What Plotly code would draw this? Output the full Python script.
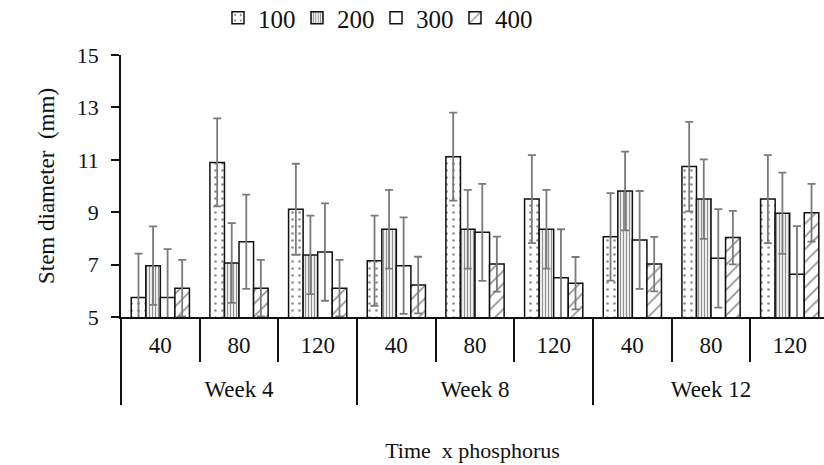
import plotly.graph_objects as go

weeks = ["Week 4", "Week 8", "Week 12"]
phos_levels = ["40", "80", "120"]
series_names = ["100", "200", "300", "400"]

s100 = [5.74, 10.9, 9.11, 7.15, 11.12, 9.5, 8.06, 10.74, 9.5]
e100 = [1.68, 1.68, 1.74, 1.72, 1.68, 1.68, 1.67, 1.71, 1.68]
s200 = [6.96, 7.06, 7.37, 8.35, 8.35, 8.35, 9.81, 9.5, 8.96]
e200 = [1.5, 1.52, 1.5, 1.5, 1.5, 1.5, 1.5, 1.52, 1.55]
s300 = [5.74, 7.87, 7.48, 6.96, 8.23, 6.5, 7.94, 7.24, 6.63]
e300 = [1.85, 1.8, 1.86, 1.84, 1.85, 1.85, 1.87, 1.88, 1.84]
s400 = [6.1, 6.1, 6.1, 6.22, 7.02, 6.29, 7.02, 8.03, 8.98]
e400 = [1.08, 1.08, 1.08, 1.08, 1.05, 1.0, 1.04, 1.02, 1.1]

values = [s100, s200, s300, s400]
errors = [e100, e200, e300, e400]

# category keys (week x phosphorus) and their labels
keys = [f"{w}|{p}" for w in weeks for p in phos_levels]
sub_labels = [p for w in weeks for p in phos_levels]
n_sub = len(phos_levels)
n_cat = len(keys)
week_centers = [i * n_sub + (n_sub - 1) / 2 for i in range(len(weeks))]

patterns = [
    dict(shape=".", size=7, solidity=0.12, fgcolor="#222", bgcolor="white"),
    dict(shape="|", size=3, solidity=0.45, fgcolor="#222", bgcolor="white"),
    dict(shape="", bgcolor="white"),
    dict(shape="/", size=9, solidity=0.18, fgcolor="#222", bgcolor="white"),
]

FAM = "Liberation Serif, Times New Roman, serif"
XR = [-0.5, n_cat - 0.564]


def F(size):
    return dict(family=FAM, size=size, color="#111")


fig = go.Figure()
for name, v, e, p in zip(series_names, values, errors, patterns):
    fig.add_trace(go.Bar(
        x=keys, y=v, name=name,
        marker=dict(color="white", line=dict(color="#111", width=1.5), pattern=p),
        error_y=dict(type="data", array=e, visible=True, color="#7a7a7a",
                     thickness=1.8, width=4),
    ))

# empty helper traces so the two label axes (sub-categories, weeks) are drawn
for ax in ["x2", "x3"]:
    fig.add_trace(go.Scatter(x=[], y=[], xaxis=ax, yaxis="y", mode="markers",
                             showlegend=False, hoverinfo="skip"))

fig.update_layout(
    width=824, height=465,
    margin=dict(l=121, r=0, t=55, b=148),
    plot_bgcolor="white", paper_bgcolor="white",
    barmode="group", bargap=0.26, bargroupgap=0,
    font=F(20),
    legend=dict(orientation="h", xref="container", x=218 / 824, xanchor="left",
                yref="container", y=1 - 18 / 465, yanchor="middle",
                font=F(25), itemwidth=30, traceorder="normal",
                entrywidth=34, entrywidthmode="pixels"),
    showlegend=True,
    xaxis=dict(
        type="category", range=XR, showgrid=False, zeroline=False,
        showline=True, linecolor="#111", linewidth=1.5,
        showticklabels=False, ticks="",
        title=dict(text="Time  x phosphorus", font=F(22), standoff=125),
    ),
    xaxis2=dict(
        overlaying="x", anchor="y", side="bottom", type="linear", range=XR,
        showgrid=False, zeroline=False, showline=False,
        tickmode="array", tickvals=list(range(n_cat)), ticktext=sub_labels,
        ticks="outside", ticklen=0, tickfont=F(23), ticklabelstandoff=7,
        minor=dict(ticks="outside", tickmode="linear", tick0=-0.5, dtick=1,
                   ticklen=44, tickcolor="#111", tickwidth=1.5, showgrid=False),
    ),
    xaxis3=dict(
        overlaying="x", anchor="y", side="bottom", type="linear", range=XR,
        showgrid=False, zeroline=False, showline=False,
        tickmode="array", tickvals=week_centers, ticktext=weeks,
        ticks="outside", ticklen=0, tickfont=F(23), ticklabelstandoff=51,
        minor=dict(ticks="outside", tickmode="linear", tick0=-0.5, dtick=n_sub,
                   ticklen=87, tickcolor="#111", tickwidth=1.5, showgrid=False),
    ),
    yaxis=dict(
        range=[5, 15], dtick=2, tick0=5, showgrid=False, zeroline=False,
        showline=True, linecolor="#111", linewidth=1.5,
        ticks="outside", ticklen=8, tickcolor="#111", tickwidth=1.5,
        tickfont=F(22), ticklabelstandoff=8,
        title=dict(text="Stem diameter  (mm)", font=F(23), standoff=16),
    ),
)
fig.write_html("out.html")
